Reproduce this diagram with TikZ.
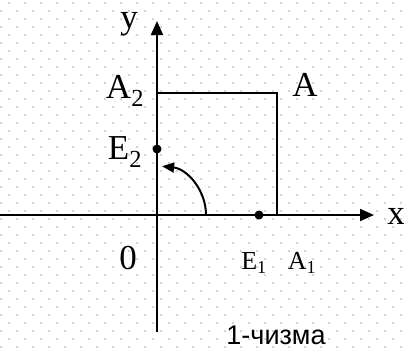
\documentclass[tikz,border=0pt]{standalone}
\usepackage{fontspec}
\setmainfont{Liberation Serif}
\newfontfamily\capfont{Liberation Sans}
\usetikzlibrary{arrows.meta}
\definecolor{dotgray}{RGB}{195,195,195}
\tikzset{
  axis/.style={line width=2pt, -{Triangle[length=14pt,width=12pt]}},
  rect/.style={line width=2pt},
  lbl/.style={inner sep=0pt, font=\fontsize{35}{35}\selectfont},
  smalllbl/.style={inner sep=0pt, font=\fontsize{26}{26}\selectfont},
  pt/.style={circle, fill=black, inner sep=0pt, minimum size=9pt},
}
\begin{document}
\begin{tikzpicture}[x=1pt, y=-1pt]
    \useasboundingbox (0,0) rectangle (404,349);

    % Dotted background
    \foreach \i in {0,...,25}
      \foreach \j in {0,...,21} {
        \fill[dotgray] (9+16*\i,3+16*\j) circle[radius=1.1];
        \fill[dotgray] (1+16*\i,11+16*\j) circle[radius=1.1];
      }

    % Axes
    \coordinate (O) at (157,215);
    \coordinate (xs) at (0,215);
    \coordinate (xe) at (374,215);
    \coordinate (ys) at (157,332);
    \coordinate (ye) at (157,21);
    \draw[axis] (xs) -- (xe);
    \draw[axis] (ys) -- (ye);
    \node[lbl] (xlab) at (396,216) {x};
    \node[lbl] (ylab) at (129,24) {y};
    \node[lbl] (zero) at (128,258) {0};

    % Rectangle to A
    \coordinate (A2) at (157,93);
    \coordinate (A) at (277,93);
    \coordinate (A1) at (277,215);
    \draw[rect] (A2) -- (A) -- (A1);
    \node[lbl] (Alab) at (305,85) {A};
    \node[lbl] (A2lab) at (125,91) {A\textsubscript{2}};
    \node[smalllbl] (A1lab) at (302,263) {A\textsubscript{1}};

    % Unit points
    \node[pt] (E2) at (157,149) {};
    \node[pt] (E1) at (259,215) {};
    \node[lbl] (E2lab) at (125,152) {E\textsubscript{2}};
    \node[smalllbl] (E1lab) at (254,263) {E\textsubscript{1}};

    % Rotation arc
    \draw[rect, -{Triangle[length=12pt,width=10pt]}] (206,215) arc[start angle=0, end angle=-84, radius=49];

    \node[inner sep=0pt, font=\capfont\fontsize{27}{27}\selectfont] (cap) at (276,335) {1-чизма};
\end{tikzpicture}
\end{document}
